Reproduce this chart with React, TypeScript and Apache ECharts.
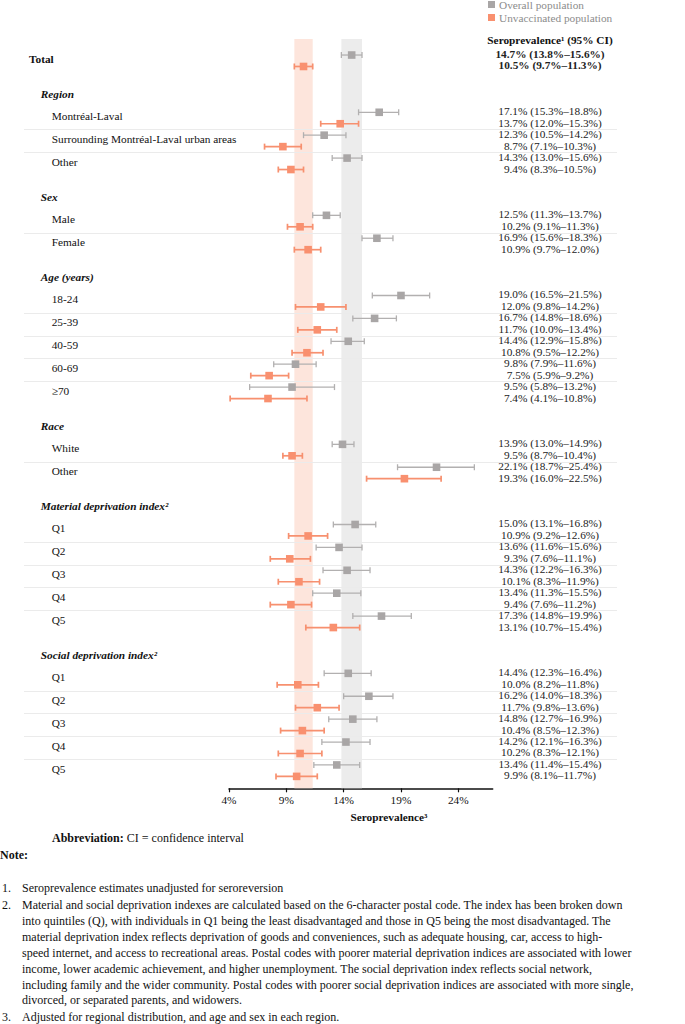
import React, { useEffect, useRef } from "react";
import * as echarts from "echarts";

const FONT = "'Liberation Serif', 'Times New Roman', Times, serif";

const groupTitles = ["", "Region", "Sex", "Age (years)", "Race", "Material deprivation index²", "Social deprivation index²"];
const rowLabels = [
  "Total",
  "Montréal-Laval", "Surrounding Montréal-Laval urban areas", "Other",
  "Male", "Female",
  "18-24", "25-39", "40-59", "60-69", "≥70",
  "White", "Other",
  "Q1", "Q2", "Q3", "Q4", "Q5",
  "Q1", "Q2", "Q3", "Q4", "Q5",
];
const rowGroup = [0, 1, 1, 1, 2, 2, 3, 3, 3, 3, 3, 4, 4, 5, 5, 5, 5, 5, 6, 6, 6, 6, 6];

const overallEst = [14.7, 17.1, 12.3, 14.3, 12.5, 16.9, 19.0, 16.7, 14.4, 9.8, 9.5, 13.9, 22.1, 15.0, 13.6, 14.3, 13.4, 17.3, 14.4, 16.2, 14.8, 14.2, 13.4];
const overallLow = [13.8, 15.3, 10.5, 13.0, 11.3, 15.6, 16.5, 14.8, 12.9, 7.9, 5.8, 13.0, 18.7, 13.1, 11.6, 12.2, 11.3, 14.8, 12.3, 14.0, 12.7, 12.1, 11.4];
const overallHigh = [15.6, 18.8, 14.2, 15.6, 13.7, 18.3, 21.5, 18.6, 15.8, 11.6, 13.2, 14.9, 25.4, 16.8, 15.6, 16.3, 15.5, 19.9, 16.4, 18.3, 16.9, 16.3, 15.4];

const unvaxEst = [10.5, 13.7, 8.7, 9.4, 10.2, 10.9, 12.0, 11.7, 10.8, 7.5, 7.4, 9.5, 19.3, 10.9, 9.3, 10.1, 9.4, 13.1, 10.0, 11.7, 10.4, 10.2, 9.9];
const unvaxLow = [9.7, 12.0, 7.1, 8.3, 9.1, 9.7, 9.8, 10.0, 9.5, 5.9, 4.1, 8.7, 16.0, 9.2, 7.6, 8.3, 7.6, 10.7, 8.2, 9.8, 8.5, 8.3, 8.1];
const unvaxHigh = [11.3, 15.3, 10.3, 10.5, 11.3, 12.0, 14.2, 13.4, 12.2, 9.2, 10.8, 10.4, 22.5, 12.6, 11.1, 11.9, 11.2, 15.4, 11.8, 13.6, 12.3, 12.1, 11.7];

const xTicks = [4, 9, 14, 19, 24];
const X_MIN = 4;
const X_MAX = 27;

const seriesNames = ["Overall population", "Unvaccinated population"];

const noteLines2 = [
  "Material and social deprivation indexes are calculated based on the 6-character postal code. The index has been broken down",
  "into quintiles (Q), with individuals in Q1 being the least disadvantaged and those in Q5 being the most disadvantaged. The",
  "material deprivation index reflects deprivation of goods and conveniences, such as adequate housing, car, access to high-",
  "speed internet, and access to recreational areas. Postal codes with poorer material deprivation indices are associated with lower",
  "income, lower academic achievement, and higher unemployment. The social deprivation index reflects social network,",
  "including family and the wider community. Postal codes with poorer social deprivation indices are associated with more single,",
  "divorced, or separated parents, and widowers.",
];

// ---------- layout (row units) ----------
const pos: number[] = [];
const headers: { p: number; title: string }[] = [];
{
  let p = 0;
  rowGroup.forEach((g, i) => {
    if (i === 0) p = 0;
    else if (g !== rowGroup[i - 1]) {
      p += 2.5;
      headers.push({ p, title: groupTitles[g] });
    } else p += 1;
    pos.push(p);
  });
}
const separators = pos.filter((_, i) => i > 0 && rowGroup[i] === rowGroup[i - 1]);
const Y_MIN = -0.45;
const Y_MAX = pos[pos.length - 1] + 1.27;

const fmt = (e: number, l: number, h: number) => `${e.toFixed(1)}% (${l.toFixed(1)}%–${h.toFixed(1)}%)`;

const GRAY = "#a9a6a6";
const GRAY_LINE = "#b2b0b0";
const ORANGE = "#f9906f";
const ORANGE_LINE = "#f7906f";
const FS = 11.3;

function barRender(fill: string, stroke: string, lw: number, offset: number) {
  return (params: any, api: any) => {
    const est = api.value(0), lo = api.value(1), hi = api.value(2), pp = api.value(3);
    const y = api.coord([est, pp + offset])[1];
    const xe = api.coord([est, pp])[0];
    const xl = api.coord([lo, pp])[0];
    const xh = api.coord([hi, pp])[0];
    const cap = 3;
    const s = 3.8;
    const ls = { stroke, lineWidth: lw };
    return {
      type: "group",
      children: [
        { type: "line", shape: { x1: xl, y1: y, x2: xh, y2: y }, style: ls },
        { type: "line", shape: { x1: xl, y1: y - cap, x2: xl, y2: y + cap }, style: ls },
        { type: "line", shape: { x1: xh, y1: y - cap, x2: xh, y2: y + cap }, style: ls },
        { type: "rect", shape: { x: xe - s, y: y - s, width: 2 * s, height: 2 * s }, style: { fill } },
      ],
    };
  };
}

export default function App() {
  const ref = useRef<HTMLDivElement>(null);
  useEffect(() => {
    if (!ref.current) return;
    const chart = echarts.init(ref.current, null, { renderer: "svg" });

    const NOTE_TOP = 905;
    const NOTE_STEP = 15.9;
    const tx = (x: number, y: number, text: string, extra: any = {}) => ({
      type: "text", x, y,
      style: { text, fontFamily: FONT, fontSize: 12, fill: "#111", verticalAlign: "middle", ...extra },
    });
    const notesGraphic: any[] = [
      {
        type: "text", x: 52, y: 838,
        style: { text: "{b|Abbreviation:} CI = confidence interval", fontFamily: FONT, fontSize: 12, fill: "#111", verticalAlign: "middle",
          rich: { b: { fontWeight: "bold", fontFamily: FONT, fontSize: 12, fill: "#111" } } },
      },
      tx(0, 855, "Note:", { fontWeight: "bold" }),
      tx(2, 888, "1."),
      tx(22, 888, "Seroprevalence estimates unadjusted for seroreversion"),
      tx(2, NOTE_TOP, "2."),
      ...noteLines2.map((t, i) => tx(22, NOTE_TOP + i * NOTE_STEP, t)),
      tx(2, NOTE_TOP + 7 * NOTE_STEP + 1, "3."),
      tx(22, NOTE_TOP + 7 * NOTE_STEP + 1, "Adjusted for regional distribution, and age and sex in each region."),
    ];

    const option: any = {
      animation: false,
      legend: {
        data: seriesNames,
        orient: "vertical",
        left: 488,
        top: -1,
        padding: 0,
        itemWidth: 7,
        itemHeight: 7,
        itemGap: 2,
        icon: "rect",
        textStyle: { fontFamily: FONT, fontSize: FS, color: "#8c8c8c", padding: [0, 0, 0, -1] },
      },
      grid: { left: 229, right: 192.3, top: 39, bottom: 235.7, containLabel: false },
      xAxis: {
        type: "value",
        position: "bottom",
        min: X_MIN,
        max: X_MAX,
        interval: 5,
        axisLine: { show: true, onZero: false, lineStyle: { color: "#111", width: 1.5 } },
        axisTick: { show: true, length: 4, customValues: xTicks, lineStyle: { color: "#111", width: 1.2 } },
        axisLabel: { customValues: xTicks, formatter: "{value}%", fontFamily: FONT, fontSize: FS, color: "#111", margin: 6 },
        splitLine: { show: false },
      },
      yAxis: { type: "value", inverse: true, min: Y_MIN, max: Y_MAX, show: false },
      graphic: [
        { type: "text", x: 550, y: 40, style: { text: "Seroprevalence¹ (95% CI)", fontFamily: FONT, fontSize: FS, fontWeight: "bold", fill: "#111", align: "center", verticalAlign: "middle" } },
        { type: "text", x: 389, y: 817, style: { text: "Seroprevalence³", fontFamily: FONT, fontSize: FS, fontWeight: "bold", fill: "#111", align: "center", verticalAlign: "middle" } },
        ...notesGraphic,
      ],
      series: [
        {
          name: "separators",
          type: "custom",
          silent: true,
          clip: false,
          z: 1,
          data: separators.map((s) => [X_MIN, s]),
          encode: { x: 0, y: 1 },
          renderItem: (params: any, api: any) => {
            const y = Math.round(api.coord([X_MIN, api.value(1)])[1]) + 0.5;
            return { type: "line", shape: { x1: 24, y1: y, x2: 617, y2: y }, style: { stroke: "#ebebeb", lineWidth: 1 } };
          },
        },
        {
          name: seriesNames[0],
          type: "custom",
          clip: false,
          z: 3,
          itemStyle: { color: GRAY },
          data: overallEst.map((e, i) => [e, overallLow[i], overallHigh[i], pos[i]]),
          encode: { x: [0, 1, 2], y: 3 },
          renderItem: barRender(GRAY, GRAY_LINE, 1.3, 0.25),
          markArea: {
            silent: true,
            itemStyle: { color: "#ececec" },
            data: [[{ xAxis: overallLow[0] }, { xAxis: overallHigh[0] }]],
          },
        },
        {
          name: seriesNames[1],
          type: "custom",
          clip: false,
          z: 3,
          itemStyle: { color: ORANGE },
          data: unvaxEst.map((e, i) => [e, unvaxLow[i], unvaxHigh[i], pos[i]]),
          encode: { x: [0, 1, 2], y: 3 },
          renderItem: barRender(ORANGE, ORANGE_LINE, 1.7, 0.75),
          markArea: {
            silent: true,
            itemStyle: { color: "#fde5dc" },
            data: [[{ xAxis: unvaxLow[0] }, { xAxis: unvaxHigh[0] }]],
          },
        },
        {
          name: "rowLabels",
          type: "custom",
          silent: true,
          clip: false,
          data: rowLabels.map((_, i) => [X_MIN, pos[i]]),
          encode: { x: 0, y: 1 },
          renderItem: (params: any, api: any) => {
            const i = params.dataIndex;
            const y = api.coord([X_MIN, api.value(1) + 0.42])[1];
            return {
              type: "text",
              x: i === 0 ? 29 : 51.7,
              y,
              style: { text: rowLabels[i], fontFamily: FONT, fontSize: FS, fontWeight: i === 0 ? "bold" : "normal", fill: "#111", verticalAlign: "middle" },
            };
          },
        },
        {
          name: "groupHeaders",
          type: "custom",
          silent: true,
          clip: false,
          data: headers.map((h) => [X_MIN, h.p]),
          encode: { x: 0, y: 1 },
          renderItem: (params: any, api: any) => {
            const h = headers[params.dataIndex];
            const y = api.coord([X_MIN, api.value(1) - 0.55])[1];
            return {
              type: "text",
              x: 40.7,
              y,
              style: { text: h.title, fontFamily: FONT, fontSize: FS, fontWeight: "bold", fontStyle: "italic", fill: "#111", verticalAlign: "middle" },
            };
          },
        },
        {
          name: "ciText",
          type: "custom",
          silent: true,
          clip: false,
          data: rowLabels.map((_, i) => [X_MIN, pos[i]]),
          encode: { x: 0, y: 1 },
          renderItem: (params: any, api: any) => {
            const i = params.dataIndex;
            const y1 = api.coord([X_MIN, api.value(1) + 0.25])[1] - 1;
            const y2 = api.coord([X_MIN, api.value(1) + 0.75])[1] - 1;
            const w = i === 0 ? "bold" : "normal";
            return {
              type: "group",
              children: [
                { type: "text", x: 550, y: y1, style: { text: fmt(overallEst[i], overallLow[i], overallHigh[i]), fontFamily: FONT, fontSize: FS, fontWeight: w, fill: "#222", align: "center", verticalAlign: "middle" } },
                { type: "text", x: 550, y: y2, style: { text: fmt(unvaxEst[i], unvaxLow[i], unvaxHigh[i]), fontFamily: FONT, fontSize: FS, fontWeight: w, fill: "#222", align: "center", verticalAlign: "middle" } },
              ],
            };
          },
        },
      ],
    };
    chart.setOption(option);
    return () => chart.dispose();
  }, []);
  return <div ref={ref} style={{ position: "absolute", left: 0, top: 0, width: 685, height: 1024, background: "#fff" }} />;
}
